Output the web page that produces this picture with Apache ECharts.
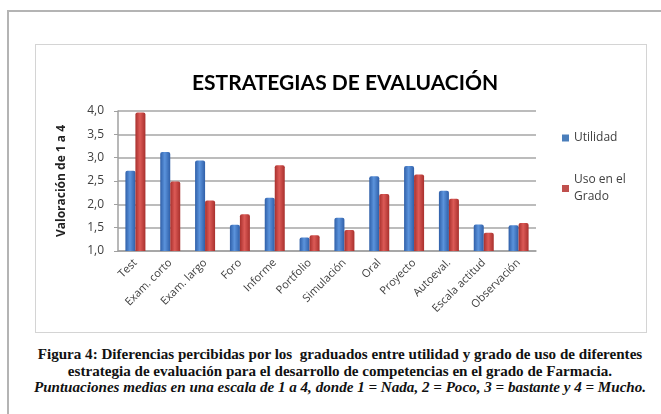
<!DOCTYPE html>
<html>
<head>
<meta charset="utf-8">
<script src="https://cdn.jsdelivr.net/npm/echarts@6/dist/echarts.min.js"></script>
<style>
    body { margin: 0; background: #fff; width: 661px; height: 414px; overflow: hidden; position: relative; }
    #frame { position: absolute; left: 7px; top: 10px; width: 680px; height: 420px;
             border-left: 2px solid #b4b4b4; border-top: 2px solid #b4b4b4; }
    #chart { position: absolute; left: 35px; top: 44px; width: 610px; height: 287px;
             border: 1px solid #d4d4d4; }
    #caption { position: absolute; left: -30px; width: 740px; top: 346px; text-align: center;
               font-family: "Liberation Serif", serif; font-size: 15.1px; line-height: 16.5px;
               font-weight: bold; color: #111; }
    #caption i { font-style: italic; }
</style>
</head>
<body>
<div id="frame"></div>
<div id="chart"></div>
<div id="caption">
    Figura 4: Diferencias percibidas por los &nbsp;graduados entre utilidad y grado de uso de diferentes<br>
    estrategia de evaluación para el desarrollo de competencias en el grado de Farmacia.<br>
    <i>Puntuaciones medias en una escala de 1 a 4, donde 1 = Nada, 2 = Poco, 3 = bastante y 4 = Mucho.</i>
</div>
<script>
// categories and values
var categories = ['Test', 'Exam. corto', 'Exam. largo', 'Foro', 'Informe', 'Portfolio',
    'Simulación', 'Oral', 'Proyecto', 'Autoeval.', 'Escala actitud', 'Observación'];
var utilidad = [2.72, 3.12, 2.94, 1.56, 2.14, 1.29, 1.71, 2.6, 2.82, 2.29, 1.57, 1.55];
var usoGrado = [3.97, 2.49, 2.08, 1.79, 2.84, 1.34, 1.45, 2.22, 2.64, 2.12, 1.39, 1.6];
var yTicks = { min: 1, max: 4, step: 0.5 };

// cylinder-ish shading like the excel 3D bars
function shade(dark, light) {
    return new echarts.graphic.LinearGradient(0, 0, 1, 0, [
        { offset: 0, color: dark },
        { offset: 0.45, color: light },
        { offset: 1, color: dark }
    ]);
}

var myChart = echarts.init(document.getElementById('chart'), null, { renderer: 'canvas' });

var option = {
    animation: false,
    color: ['#4a7ebb', '#c0504d'],
    title: {
        text: 'ESTRATEGIAS DE EVALUACIÓN',
        left: 304, top: 23, textAlign: 'center',
        textStyle: { fontFamily: 'Lato', fontWeight: 'bold', fontSize: 21, color: '#000' }
    },
    legend: [{
        orient: 'vertical', left: 521, top: 82,
        itemWidth: 7, itemHeight: 7, icon: 'rect',
        textStyle: { fontFamily: 'Open Sans', fontSize: 12, color: '#404040' },
        data: [{ name: 'Utilidad', itemStyle: { color: '#4a7ebb' } }]
    }, {
        orient: 'vertical', left: 521, top: 113,
        itemWidth: 7, itemHeight: 7, icon: 'rect',
        textStyle: { fontFamily: 'Open Sans', fontSize: 12, color: '#404040', lineHeight: 17, padding: [17, 0, 0, 0] },
        formatter: function (name) { return name === 'Uso en el Grado' ? 'Uso en el\nGrado' : name; },
        data: [{ name: 'Uso en el Grado', itemStyle: { color: '#c0504d' } }]
    }],
    grid: { left: 82, width: 418, top: 66, height: 140 },
    xAxis: {
        type: 'category',
        data: categories,
        axisTick: { show: false },
        axisLine: { lineStyle: { color: '#a0a0a0', width: 1.5 } },
        axisLabel: {
            rotate: 45, interval: 0, margin: 10,
            fontFamily: 'Open Sans', fontSize: 11, color: '#404040'
        }
    },
    yAxis: {
        type: 'value',
        min: yTicks.min, max: yTicks.max, interval: yTicks.step,
        name: 'Valoración de 1 a 4',
        nameLocation: 'middle', nameGap: 50, nameRotate: 90,
        nameTextStyle: { fontFamily: 'Open Sans', fontWeight: 'bold', fontSize: 12, color: '#222' },
        axisLine: { show: true, lineStyle: { color: '#a0a0a0', width: 1.5 } },
        axisTick: { show: true, length: 4, lineStyle: { color: '#a0a0a0' } },
        axisLabel: {
            margin: 14, fontFamily: 'Open Sans', fontSize: 12, color: '#404040',
            formatter: function (v) { return v.toFixed(1).replace('.', ','); }
        },
        splitLine: { lineStyle: { color: '#a6a6a6', width: 1.5 } }
    },
    series: [{
        name: 'Utilidad',
        type: 'bar',
        data: utilidad,
        barWidth: 10,
        barGap: '0%',
        itemStyle: { color: shade('#2f5fa8', '#5b93dc'), borderRadius: [2, 2, 0, 0] }
    }, {
        name: 'Uso en el Grado',
        type: 'bar',
        data: usoGrado,
        barWidth: 10,
        itemStyle: { color: shade('#a8302d', '#dc5a56'), borderRadius: [2, 2, 0, 0] }
    }]
};

myChart.setOption(option);
</script>
</body>
</html>
